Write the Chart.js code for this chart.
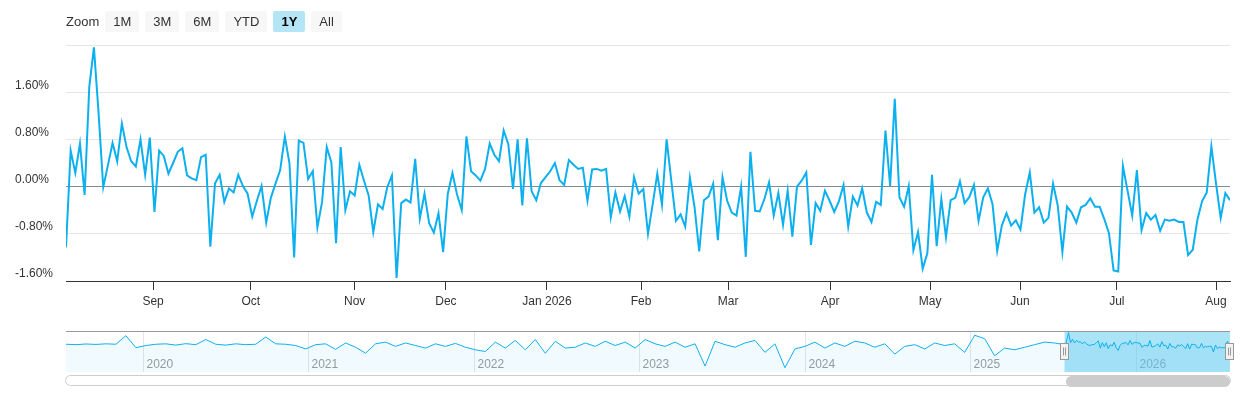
<!DOCTYPE html>
<html>
<head>
<meta charset="utf-8">
<script src="https://cdn.jsdelivr.net/npm/chart.js@4.4.0/dist/chart.umd.min.js"></script>
<style>
  body { margin: 0; background: #fff; font-family: "Liberation Sans", Arial, sans-serif; }
  #wrap { position: relative; width: 1240px; height: 400px; }
  #zoom { position: absolute; left: 66px; top: 11px; font-size: 13px; color: #333; display: flex; align-items: center; }
  #zoom span.lbl { margin-right: 6px; }
  #zoom .btn { background: #f7f7f7; border-radius: 2px; height: 21px; line-height: 21px; padding: 0 8px; margin-right: 6px; font-size: 13px; }
  #zoom .btn.on { background: #b3e5f7; font-weight: bold; color: #000; }
  #main { position: absolute; left: 0; top: 0; }
  #nav { position: absolute; left: 0; top: 328px; }
  #track { position: absolute; left: 65px; top: 375px; width: 1164px; height: 9px; border: 1px solid #ccc; border-radius: 6px; background: #fff; }
  #thumb { position: absolute; left: 1066px; top: 376px; width: 164px; height: 11px; border-radius: 6px; background: #ccc; }
</style>
</head>
<body>
<div id="wrap">
  <canvas id="main" width="1240" height="320"></canvas>
  <div id="zoom"><span class="lbl">Zoom</span><span class="btn">1M</span><span class="btn">3M</span><span class="btn">6M</span><span class="btn">YTD</span><span class="btn on">1Y</span><span class="btn">All</span></div>
  <canvas id="nav" width="1240" height="48"></canvas>
  <div id="track"></div>
  <div id="thumb"></div>
</div>
<script>
// daily % change, last year (trading days)
var values = [
  -1.03,0.61,0.23,0.73,-0.14,1.69,2.36,1.24,-0.01,0.36,0.74,0.43,1.07,0.67,0.43,0.34,0.80,0.20,0.83,-0.43,
  0.61,0.52,0.22,0.40,0.59,0.65,0.19,0.14,0.11,0.50,0.54,-1.02,0.05,0.20,-0.26,-0.03,-0.10,0.20,0.01,-0.12,
  -0.51,-0.24,0.01,-0.61,-0.19,0.05,0.28,0.85,0.39,-1.20,0.78,0.74,0.13,0.26,-0.69,-0.26,0.67,0.41,-0.96,0.67,
  -0.40,-0.08,-0.15,
  0.37,0.10,-0.15,-0.77,-0.30,-0.38,-0.01,0.19,-1.55,-0.28,-0.22,-0.27,0.47,-0.54,-0.12,-0.62,-0.78,-0.45,-1.11,-0.12,
  0.23,-0.14,-0.40,0.85,0.26,0.19,0.10,0.30,0.73,0.54,0.43,0.95,0.72,-0.04,0.80,-0.32,0.82,-0.08,-0.23,0.06,
  0.16,0.26,0.40,0.11,0.03,0.45,0.37,0.30,0.32,-0.24,0.29,0.30,0.27,0.30,-0.52,-0.10,-0.42,-0.16,-0.51,0.16,
  -0.12,-0.04,
  -0.80,-0.30,0.22,-0.31,0.80,0.10,-0.58,-0.47,-0.68,0.15,-0.35,-1.10,-0.23,-0.17,0.05,-0.91,0.16,-0.24,-0.44,-0.49,
  0.00,-1.19,0.59,-0.41,-0.42,-0.21,0.07,-0.49,-0.11,-0.65,-0.07,-0.85,0.00,0.10,0.24,-0.99,-0.28,-0.41,-0.07,-0.24,
  -0.43,-0.25,0.03,-0.68,-0.17,-0.32,-0.03,-0.44,-0.60,-0.26,-0.31,0.95,0.01,1.49,-0.18,-0.34,0.01,-1.08,-0.77,-1.39,
  -1.13,0.20,-1.01,
  -0.21,-0.86,-0.23,-0.19,0.09,-0.28,-0.18,0.03,-0.58,-0.18,-0.03,-0.30,-1.09,-0.66,-0.45,-0.66,-0.57,-0.73,-0.13,0.24,
  -0.44,-0.35,-0.61,-0.53,0.05,-0.32,-1.11,-0.34,-0.44,-0.61,-0.35,-0.31,-0.20,-0.34,-0.34,-0.55,-0.79,-1.42,-1.44,0.35,
  -0.07,-0.49,0.28,-0.74,-0.45,-0.56,-0.48,-0.75,-0.56,-0.58,-0.56,-0.60,-0.60,-1.16,-1.07,-0.56,-0.25,-0.10,0.68,0.05,
  -0.53,-0.11,-0.23
];
// month ticks (position in trading-day index)
var monthLabels = ["Sep","Oct","Nov","Dec","Jan 2026","Feb","Mar","Apr","May","Jun","Jul","Aug"];
var monthIndex = [18.7,39.7,62.0,81.6,103.3,123.5,142.2,164.1,185.6,204.9,225.7,247.0];
var yTicks = [-1.6,-0.8,0,0.8,1.6,2.4];

// navigator history before the selected year (coarse)
var navHistory = [
  0.05,0.0,0.08,0.03,0.1,0.05,1.05,-0.35,-0.1,0.05,0.1,-0.05,0.12,0.0,0.6,0.05,-0.05,0.1,0.0,0.05,
  0.9,0.1,0.05,-0.1,-0.5,0.0,0.1,-0.55,0.2,-0.3,-1.0,0.1,0.3,-0.2,0.2,-0.1,-0.4,0.1,-0.2,0.15,
  -0.3,-0.6,-0.8,0.3,-0.4,0.5,-0.6,0.6,-1.0,0.4,-0.4,
  -0.3,0.2,-0.2,0.4,-0.1,0.3,-0.4,0.6,0.1,-0.2,0.3,-0.3,0.1,-2.5,0.4,0.0,-0.3,0.2,0.5,-0.9,
  0.1,-2.7,-0.5,-0.2,0.3,-0.4,0.2,-0.2,0.4,0.2,-0.3,0.1,-1.1,-0.2,0.0,-0.5,0.2,-0.1,0.1,-0.9,
  1.1,0.7,-1.3,-0.4,-0.6,-0.3,0.0,0.3,0.2,0.0
];
var navYears = [2020,2021,2022,2023,2024,2025,2026];
var navStart = 2019.535, navSel = 2025.57, navEnd = 2026.57;

var lineColor = '#0db0ef';

var labelMap = {};
monthIndex.forEach(function (v, i) { labelMap[v] = monthLabels[i]; });

new Chart(document.getElementById('main'), {
  type: 'line',
  data: {
    datasets: [{
      data: values.map(function (v, i) { return { x: i, y: v }; }),
      borderColor: lineColor,
      borderWidth: 2,
      pointRadius: 0,
      tension: 0,
      fill: false
    }]
  },
  options: {
    responsive: false,
    animation: false,
    layout: { padding: { left: 15, right: 10, top: 45, bottom: 0 } },
    plugins: { legend: { display: false }, tooltip: { enabled: false } },
    scales: {
      x: {
        type: 'linear', min: 0, max: values.length - 1,
        afterBuildTicks: function (s) { s.ticks = monthIndex.map(function (v) { return { value: v }; }); },
        afterFit: function (s) { s.height = 39; },
        ticks: { autoSkip: false, maxRotation: 0, color: '#333', font: { size: 12, family: 'Liberation Sans' }, padding: 4,
                 callback: function (v) { return labelMap[v]; } },
        grid: { drawOnChartArea: false, tickLength: 9, color: '#333', tickColor: '#333' },
        border: { color: '#333', width: 1 }
      },
      y: {
        min: -1.6, max: 2.4,
        afterBuildTicks: function (s) { s.ticks = yTicks.map(function (v) { return { value: v }; }); },
        afterFit: function (s) { s.width = 51; },
        ticks: { crossAlign: 'far', color: '#333', labelOffset: -7, font: { size: 12, family: 'Liberation Sans' },
                 callback: function (v) { return v > 2 ? '' : v.toFixed(2) + '%'; } },
        grid: { color: function (c) { return c.tick && c.tick.value === 0 ? '#7f8c9a' : '#e6e6e6'; }, drawTicks: false },
        border: { display: false }
      }
    }
  }
});

// navigator: history plus the selected year sampled weekly
var navData = navHistory.map(function (v, i) { return { x: navStart + i * (navSel - navStart) / (navHistory.length - 1), y: v }; });
values.forEach(function (v, j) {
  if (j % 3 === 0) navData.push({ x: navSel + j / (values.length - 1), y: v * 0.6 });
});

var navPlugin = {
  id: 'navextras',
  beforeDatasetsDraw: function (chart) {
    var c = chart.ctx, a = chart.chartArea, xs = chart.scales.x;
    c.save();
    c.strokeStyle = '#e6e6e6'; c.lineWidth = 1;
    c.fillStyle = '#999'; c.font = '12px "Liberation Sans"';
    navYears.forEach(function (y) {
      var px = Math.round(xs.getPixelForValue(y)) + 0.5;
      c.beginPath(); c.moveTo(px, a.top); c.lineTo(px, a.bottom); c.stroke();
      c.fillText(String(y), px + 3, a.bottom - 4);
    });
    var x1 = xs.getPixelForValue(navSel), x2 = xs.getPixelForValue(navEnd);
    c.fillStyle = 'rgba(102,204,240,0.55)';
    c.fillRect(x1, a.top, x2 - x1, a.bottom - a.top);
    c.restore();
  },
  afterDraw: function (chart) {
    var c = chart.ctx, a = chart.chartArea, xs = chart.scales.x;
    c.save();
    c.strokeStyle = '#999'; c.lineWidth = 1;
    c.beginPath(); c.moveTo(a.left, a.top + 0.5); c.lineTo(a.right, a.top + 0.5); c.stroke();
    [navSel, navEnd].forEach(function (v) {
      var px = Math.round(xs.getPixelForValue(v));
      var cy = (a.top + a.bottom) / 2;
      c.fillStyle = '#f2f2f2'; c.strokeStyle = '#999';
      c.fillRect(px - 4.5, cy - 8, 8, 16); c.strokeRect(px - 4.5, cy - 8, 8, 16);
      c.beginPath(); c.moveTo(px - 1.5, cy - 4); c.lineTo(px - 1.5, cy + 4); c.moveTo(px + 0.5, cy - 4); c.lineTo(px + 0.5, cy + 4); c.stroke();
    });
    c.restore();
  }
};

new Chart(document.getElementById('nav'), {
  type: 'line',
  data: {
    datasets: [{
      data: navData,
      borderColor: lineColor,
      borderWidth: 1,
      pointRadius: 0,
      tension: 0,
      fill: 'start',
      backgroundColor: 'rgba(13,176,239,0.06)'
    }]
  },
  options: {
    responsive: false,
    animation: false,
    layout: { padding: { left: 66, right: 10, top: 3, bottom: 4 } },
    plugins: { legend: { display: false }, tooltip: { enabled: false } },
    scales: {
      x: { type: 'linear', min: navStart, max: navEnd, display: false },
      y: { min: -3.2, max: 1.6, display: false }
    }
  },
  plugins: [navPlugin]
});
</script>
</body>
</html>
